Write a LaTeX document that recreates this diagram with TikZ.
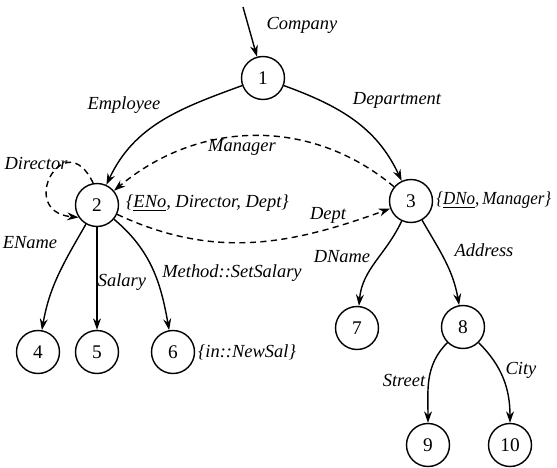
\documentclass[tikz,border=0pt]{standalone}
\usepackage{fontspec}
\setmainfont{Liberation Serif}
\usetikzlibrary{arrows.meta}

\begin{document}
\begin{tikzpicture}[
    x=0.02cm, y=0.02cm,
    obj/.style={draw, circle, line width=0.8pt, minimum size=0.86cm, inner sep=0pt, font=\fontsize{11}{13}\selectfont},
    lab/.style={font=\fontsize{10.5}{12}\selectfont\itshape, inner sep=1pt},
    link/.style={line width=0.8pt, -{Stealth[length=6.5pt, width=4.5pt]}},
    ref/.style={link, dash pattern=on 3.5pt off 2.5pt}
]
\useasboundingbox (0,0) rectangle (557,467);

% objects
\node[obj] (n1) at (263,389) {1};
\node[obj] (n2) at (97,262) {2};
\node[obj] (n3) at (411,266) {3};
\node[obj] (n4) at (38,115) {4};
\node[obj] (n5) at (97,115) {5};
\node[obj] (n6) at (173,115) {6};
\node[obj] (n7) at (357,139) {7};
\node[obj] (n8) at (463,140) {8};
\node[obj] (n9) at (428,22) {9};
\node[obj] (n10) at (510,22) {10};
\coordinate (root) at (243,460);

% attribute sets
\node[lab, anchor=west] (set2) at (124,264) {\{\underline{ENo}, Director, Dept\}};
\node[lab, anchor=west, inner sep=0pt] (set3) at (436,267) {\scalebox{0.92}[1]{\{\underline{DNo},\,Manager\}}};
\node[lab, anchor=west] (set6) at (196,115) {\{in::NewSal\}};

% edges
\draw[link] (root) -- (n1);
\draw[link] (n1) to[out=200, in=65] (n2);
\draw[link] (n1) to[out=-20, in=115] (n3);
\draw[ref] (n3) to[out=140, in=40] (n2);
\draw[ref] (n2) to[out=-25, in=200] (n3);
\draw[ref] (n2.100) .. controls +(-28,60) and +(-63,6) .. (n2.214);
\draw[link] (n2) to[out=-120, in=80] (n4);
\draw[link] (n2) -- (n5);
\draw[link] (n2) to[out=-40, in=100] (n6);
\draw[link] (n3) to[out=-115, in=85] (n7);
\draw[link] (n3) to[out=-60, in=100] (n8);
\draw[link] (n8) to[out=-135, in=90] (n9);
\draw[link] (n8) to[out=-45, in=90] (n10);

% edge labels
\node[lab] (l_company) at (302,442) {Company};
\node[lab] (l_employee) at (124,362) {Employee};
\node[lab] (l_department) at (397,367) {Department};
\node[lab] (l_manager) at (242,320) {Manager};
\node[lab] (l_director) at (36,304) {Director};
\node[lab] (l_dept) at (328,252) {Dept};
\node[lab] (l_ename) at (30,224) {EName};
\node[lab] (l_salary) at (122,185) {Salary};
\node[lab] (l_method) at (232,194) {Method::SetSalary};
\node[lab] (l_dname) at (342,210) {DName};
\node[lab] (l_address) at (484,217) {Address};
\node[lab] (l_street) at (404,87) {Street};
\node[lab] (l_city) at (521,97) {City};

\end{tikzpicture}
\end{document}
